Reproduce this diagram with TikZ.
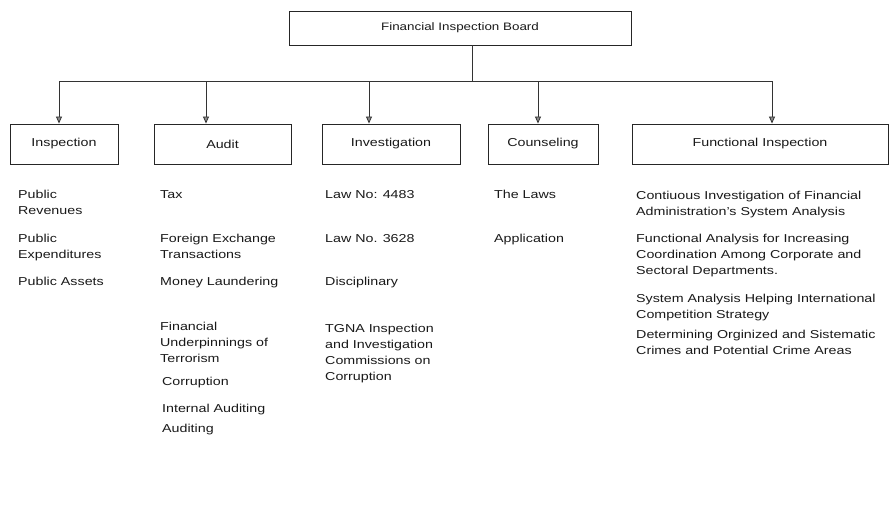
\documentclass[tikz,border=0pt]{standalone}
\usepackage{fontspec}
\setmainfont{Liberation Sans}[FakeStretch=1.24]
\usetikzlibrary{arrows.meta}
\begin{document}
\begin{tikzpicture}[x=1pt,y=-1pt,
  unitbox/.style={draw=black!85,line width=0.9pt,minimum height=40pt,inner sep=0pt,font=\fontsize{11.5}{13}\selectfont,text=black!90},
  item/.style={anchor=north west,inner sep=0pt,align=left,font=\fontsize{11.5}{16}\selectfont,text=black!90},
  link/.style={draw=black!80,line width=0.7pt},
  arr/.style={link,-{Triangle[width=6pt,length=7pt,line width=0.8pt,fill=black!45]}}]
\useasboundingbox (0,0) rectangle (891,506);

% head of the organisation
\node[unitbox,minimum width=342pt,minimum height=34pt,font=\fontsize{10.8}{13}\selectfont] (board) at (460,28) {Financial Inspection Board};

% departments
\node[unitbox,minimum width=108pt] (insp) at (64,144) {Inspection};
\node[unitbox,minimum width=137pt] (audit) at (222.5,144) {Audit};
\node[unitbox,minimum width=138pt] (invest) at (391,144) {Investigation};
\node[unitbox,minimum width=110pt] (couns) at (543,144) {Counseling};
\node[unitbox,minimum width=256pt] (func) at (760,144) {Functional Inspection};

% distribution bus
\coordinate (bus) at (472,81);
\coordinate (busL) at (59,81);
\coordinate (busR) at (772,81);
\coordinate (busA) at (206,81);
\coordinate (busV) at (369,81);
\coordinate (busC) at (538,81);
\draw[link] (board.south -| bus) -- (bus);
\draw[link] (busL) -- (busR);
\draw[arr] (busL) -- (busL |- insp.north);
\draw[arr] (busA) -- (busA |- audit.north);
\draw[arr] (busV) -- (busV |- invest.north);
\draw[arr] (busC) -- (busC |- couns.north);
\draw[arr] (busR) -- (busR |- func.north);

% Inspection
\node[item] (i1) at (18,190) {Public\\Revenues};
\node[item] (i2) at (18,234) {Public\\Expenditures};
\node[item] (i3) at (18,277) {Public Assets};

% Audit
\node[item] (a1) at (160,190) {Tax};
\node[item] (a2) at (160,234) {Foreign Exchange\\Transactions};
\node[item] (a3) at (160,277) {Money Laundering};
\node[item] (a4) at (160,322) {Financial\\Underpinnings of\\Terrorism};
\node[item] (a5) at (162,377) {Corruption};
\node[item] (a6) at (162,404) {Internal Auditing};
\node[item] (a7) at (162,424) {Auditing};

% Investigation
\node[item] (v1) at (325,190) {Law No: 4483};
\node[item] (v2) at (325,234) {Law No. 3628};
\node[item] (v3) at (325,277) {Disciplinary};
\node[item] (v4) at (325,324) {TGNA Inspection\\and Investigation\\Commissions on\\Corruption};

% Counseling
\node[item] (c1) at (494,190) {The Laws};
\node[item] (c2) at (494,234) {Application};

% Functional Inspection
\node[item] (f1) at (636,191) {Contiuous Investigation of Financial\\Administration's System Analysis};
\node[item] (f2) at (636,234) {Functional Analysis for Increasing\\Coordination Among Corporate and\\Sectoral Departments.};
\node[item] (f3) at (636,294) {System Analysis Helping International\\Competition Strategy};
\node[item] (f4) at (636,330) {Determining Orginized and Sistematic\\Crimes and Potential Crime Areas};
\end{tikzpicture}
\end{document}
